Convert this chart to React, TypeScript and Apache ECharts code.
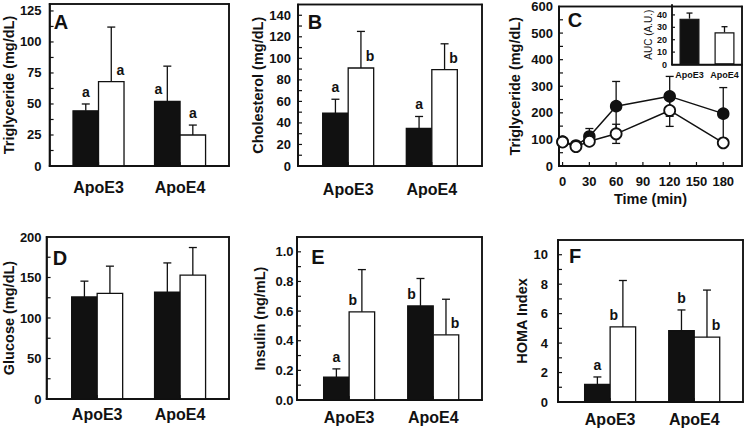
import React, { useEffect, useRef } from "react";
import * as echarts from "echarts";

// ---------- data ----------
const groups = ["ApoE3", "ApoE4"];

// A: plasma triglyceride (mg/dL)
const tgBlack = [44.5, 52];
const tgBlackSd = [5.5, 28.5];
const tgWhite = [68, 25];
const tgWhiteSd = [44, 8];
const tgBlackSig = ["a", "a"];
const tgWhiteSig = ["a", "a"];

// B: cholesterol (mg/dL)
const chBlack = [49, 35];
const chBlackSd = [13, 11];
const chWhite = [91, 89.5];
const chWhiteSd = [34, 24];
const chBlackSig = ["a", "a"];
const chWhiteSig = ["b", "b"];

// C: oral fat tolerance, triglyceride (mg/dL) over time (min)
const timePoints = [0, 15, 30, 60, 120, 180];
const timeTicks = [0, 30, 60, 90, 120, 150, 180];
const ottBlack = [92, 77, 111, 225, 262, 197];
const ottBlackSd = [12, 8, 30, 93, 75, 98];
const ottWhite = [90, 73, 93, 121, 209, 87];
const ottWhiteSd = [10, 6, 8, 36, 60, 8];
// C inset: AUC (A.U.)
const aucGroups = ["ApoE3", "ApoE4"];
const aucMean = [37, 26];
const aucSd = [4.5, 4.5];

// D: glucose (mg/dL)
const glBlack = [126, 132];
const glBlackSd = [19.5, 36];
const glWhite = [130.5, 153];
const glWhiteSd = [33.5, 34];

// E: insulin (ng/mL)
const inBlack = [0.155, 0.635];
const inBlackSd = [0.055, 0.185];
const inWhite = [0.595, 0.44];
const inWhiteSd = [0.285, 0.24];
const inBlackSig = ["a", "b"];
const inWhiteSig = ["b", "b"];

// F: HOMA index
const hoBlack = [1.2, 4.85];
const hoBlackSd = [0.5, 1.4];
const hoWhite = [5.1, 4.4];
const hoWhiteSd = [3.15, 3.2];
const hoBlackSig = ["a", "b"];
const hoWhiteSig = ["b", "b"];

// ---------- style ----------
const INK = "#111";
const FONT = "Liberation Sans, Arial, Helvetica, sans-serif";
const BAR_W = 25.5;

type Place = "top" | "left" | "right";
type FrameSpec = { xMin: number; xMax: number; yMax: number; yStep: number; xTicks: number[]; box: boolean; len: number };

const barPanels = [
  {
    letter: "A", letterX: 61, letterY: 22,
    grid: { left: 44, top: 4, width: 185, height: 162 },
    xMin: -0.6, xMax: 1.6,
    yMax: 130.6, interval: 25, showMax: false, fmt: (v: number) => String(v),
    name: "Triglyceride (mg/dL)", nameGap: 29, labelMargin: 8, catMargin: 13,
    black: tgBlack, blackSd: tgBlackSd, white: tgWhite, whiteSd: tgWhiteSd,
    blackSig: tgBlackSig, whiteSig: tgWhiteSig,
    blackPlace: ["top", "left"] as Place[], whitePlace: ["right", "top"] as Place[],
  },
  {
    letter: "B", letterX: 315, letterY: 22,
    grid: { left: 298, top: 4.5, width: 184, height: 161.5 },
    xMin: -0.6, xMax: 1.6,
    yMax: 150, interval: 20, showMax: false, fmt: (v: number) => String(v),
    name: "Cholesterol (mg/dL)", nameGap: 31, labelMargin: 7, catMargin: 15,
    black: chBlack, blackSd: chBlackSd, white: chWhite, whiteSd: chWhiteSd,
    blackSig: chBlackSig, whiteSig: chWhiteSig,
    blackPlace: ["top", "top"] as Place[], whitePlace: ["right", "right"] as Place[],
  },
  {
    letter: "D", letterX: 60, letterY: 258,
    grid: { left: 44, top: 237, width: 185, height: 162 },
    xMin: -0.61, xMax: 1.59,
    yMax: 200, interval: 50, showMax: true, fmt: (v: number) => String(v),
    name: "Glucose (mg/dL)", nameGap: 29.5, labelMargin: 5, catMargin: 7,
    black: glBlack, blackSd: glBlackSd, white: glWhite, whiteSd: glWhiteSd,
    blackSig: null, whiteSig: null,
    blackPlace: ["top", "top"] as Place[], whitePlace: ["top", "top"] as Place[],
  },
  {
    letter: "E", letterX: 318, letterY: 257,
    grid: { left: 297, top: 237, width: 185, height: 163 },
    xMin: -0.62, xMax: 1.58,
    yMax: 1.1, interval: 0.2, showMax: false, fmt: (v: number) => v.toFixed(1),
    name: "Insulin (ng/mL)", nameGap: 30, labelMargin: 3.5, catMargin: 9,
    black: inBlack, blackSd: inBlackSd, white: inWhite, whiteSd: inWhiteSd,
    blackSig: inBlackSig, whiteSig: inWhiteSig,
    blackPlace: ["top", "left"] as Place[], whitePlace: ["left", "right"] as Place[],
  },
  {
    letter: "F", letterX: 575, letterY: 256,
    grid: { left: 558, top: 240, width: 185, height: 162 },
    xMin: -0.62, xMax: 1.58,
    yMax: 11, interval: 2, showMax: false, fmt: (v: number) => String(v),
    name: "HOMA Index", nameGap: 22.5, labelMargin: 10, catMargin: 9,
    black: hoBlack, blackSd: hoBlackSd, white: hoWhite, whiteSd: hoWhiteSd,
    blackSig: hoBlackSig, whiteSig: hoWhiteSig,
    blackPlace: ["top", "top"] as Place[], whitePlace: ["left", "right"] as Place[],
  },
];

function yAxisBase(gridIndex: number, p: any) {
  return {
    gridIndex,
    type: "value",
    min: 0,
    max: p.yMax,
    interval: p.interval,
    name: p.name,
    nameLocation: "middle",
    nameGap: p.nameGap,
    nameTextStyle: { fontFamily: FONT, fontWeight: "bold", fontSize: 14.5, color: INK },
    axisLine: { show: true, onZero: false, lineStyle: { color: INK, width: 1.5 } },
    axisTick: { show: false },
    splitLine: { show: false },
    axisLabel: {
      showMaxLabel: p.showMax,
      margin: p.labelMargin,
      fontFamily: FONT,
      fontWeight: "bold",
      fontSize: 13,
      color: INK,
      formatter: p.fmt,
    },
  };
}

// frame + inward ticks as child elements, positioned via api.coord (the axes' own scales)
function frameChildren(api: any, f: FrameSpec) {
  const tl = api.coord([f.xMin, f.yMax]);
  const br = api.coord([f.xMax, 0]);
  const out: any[] = [];
  const W = 1.5;
  const T = 1.2;
  const bar = (x: number, y: number, w: number, h: number) =>
    out.push({ type: "rect", z2: 50, shape: { x, y, width: w, height: h }, style: { fill: INK } });
  bar(tl[0] - W / 2, tl[1] - W / 2, W, br[1] - tl[1] + W);
  bar(tl[0] - W / 2, br[1] - W / 2, br[0] - tl[0] + W, W);
  if (f.box) {
    bar(tl[0] - W / 2, tl[1] - W / 2, br[0] - tl[0] + W, W);
    bar(br[0] - W / 2, tl[1] - W / 2, W, br[1] - tl[1] + W);
  }
  for (let v = f.yStep; v < f.yMax - 1e-9; v += f.yStep) {
    const p = api.coord([f.xMin, v]);
    bar(tl[0], p[1] - T / 2, f.len, T);
  }
  f.xTicks.forEach((t) => {
    const p = api.coord([t, 0]);
    bar(p[0] - T / 2, br[1] - f.len, T, f.len);
  });
  return out;
}

function barRender(side: number, fill: string, sig: string[] | null, place: Place[], frame: FrameSpec | null) {
  return (params: any, api: any) => {
    const i = api.value(0);
    const m = api.value(1);
    const s = api.value(2);
    const c = api.coord([i, m]);
    const b = api.coord([i, 0]);
    const e = api.coord([i, m + s]);
    const x0 = side < 0 ? c[0] - BAR_W : c[0];
    const bc = x0 + BAR_W / 2;
    const children: any[] = [
      {
        type: "rect",
        shape: { x: x0, y: c[1], width: BAR_W, height: b[1] - c[1] },
        style: { fill, stroke: INK, lineWidth: 1.3 },
      },
      { type: "line", shape: { x1: bc, y1: c[1], x2: bc, y2: e[1] }, style: { stroke: INK, lineWidth: 1.3 } },
      { type: "line", shape: { x1: bc - 4, y1: e[1], x2: bc + 4, y2: e[1] }, style: { stroke: INK, lineWidth: 1.3 } },
    ];
    const letter = sig ? sig[params.dataIndex] : "";
    if (letter) {
      const pl = place[params.dataIndex];
      const tx = pl === "left" ? bc - 9 : pl === "right" ? bc + 9 : bc;
      const ty = (pl === "top" ? e[1] : c[1]) - 5;
      children.push({
        type: "text",
        x: tx,
        y: ty,
        style: {
          text: letter, fill: INK, fontSize: 14, fontWeight: "bold", fontFamily: FONT,
          align: "center", verticalAlign: "bottom",
        },
      });
    }
    if (frame && params.dataIndex === 0) children.push(...frameChildren(api, frame));
    return { type: "group", children };
  };
}

function errRender(symmetric: boolean, cap: number, frame: FrameSpec | null) {
  return (params: any, api: any) => {
    const x = api.value(0);
    const m = api.value(1);
    const s = api.value(2);
    const hi = api.coord([x, m + s]);
    const lo = api.coord([x, symmetric ? m - s : m]);
    const children: any[] = [
      { type: "line", shape: { x1: hi[0], y1: hi[1], x2: lo[0], y2: lo[1] }, style: { stroke: INK, lineWidth: 1.3 } },
      { type: "line", shape: { x1: hi[0] - cap, y1: hi[1], x2: hi[0] + cap, y2: hi[1] }, style: { stroke: INK, lineWidth: 1.3 } },
    ];
    if (symmetric) {
      children.push({ type: "line", shape: { x1: lo[0] - cap, y1: lo[1], x2: lo[0] + cap, y2: lo[1] }, style: { stroke: INK, lineWidth: 1.3 } });
    }
    if (frame && params.dataIndex === 0) children.push(...frameChildren(api, frame));
    return { type: "group", children };
  };
}

function buildOption() {
  const grids: any[] = [];
  const xAxes: any[] = [];
  const yAxes: any[] = [];
  const series: any[] = [];
  const graphic: any[] = [];

  barPanels.forEach((p, k) => {
    grids.push({ ...p.grid, show: true, borderColor: INK, borderWidth: 1.5 });
    xAxes.push({
      gridIndex: k,
      type: "value",
      min: p.xMin,
      max: p.xMax,
      axisLine: { show: true, onZero: false, lineStyle: { color: INK, width: 1.5 } },
      splitLine: { show: false },
      axisTick: { show: false },
      axisLabel: {
        customValues: [0, 1],
        formatter: (v: number) => groups[Math.round(v)] ?? "",
        margin: p.catMargin,
        fontFamily: FONT,
        fontWeight: "bold",
        fontSize: 16,
        color: INK,
      },
    });
    yAxes.push(yAxisBase(k, p));
    const frame: FrameSpec = { xMin: p.xMin, xMax: p.xMax, yMax: p.yMax, yStep: p.interval / 2, xTicks: [0, 1], box: true, len: 4 };
    series.push({
      type: "custom", xAxisIndex: k, yAxisIndex: k, encode: { x: 0, y: 1 },
      data: groups.map((_, i) => [i, p.black[i], p.blackSd[i]]),
      renderItem: barRender(-1, INK, p.blackSig, p.blackPlace, null),
    });
    series.push({
      type: "custom", xAxisIndex: k, yAxisIndex: k, encode: { x: 0, y: 1 }, z: 6,
      data: groups.map((_, i) => [i, p.white[i], p.whiteSd[i]]),
      renderItem: barRender(1, "#fff", p.whiteSig, p.whitePlace, frame),
    });
    graphic.push({
      type: "text", x: p.letterX, y: p.letterY, z: 100,
      style: { text: p.letter, fontSize: 20, fontWeight: "bold", fontFamily: FONT, fill: INK, align: "center", verticalAlign: "middle" },
    });
  });

  // Panel C main
  const cI = grids.length;
  grids.push({ left: 559, top: 5, width: 183, height: 161, show: true, borderColor: INK, borderWidth: 1.5 });
  xAxes.push({
    gridIndex: cI,
    type: "value",
    min: -4,
    max: 201,
    name: "Time (min)",
    nameLocation: "middle",
    nameGap: 25,
    nameTextStyle: { fontFamily: FONT, fontWeight: "bold", fontSize: 14.5, color: INK },
    axisLine: { show: true, onZero: false, lineStyle: { color: INK, width: 1.5 } },
    splitLine: { show: false },
    axisTick: { show: false },
    axisLabel: { customValues: timeTicks, margin: 9, fontFamily: FONT, fontWeight: "bold", fontSize: 13, color: INK },
  });
  yAxes.push(
    yAxisBase(cI, {
      yMax: 600, interval: 100, showMax: true, fmt: (v: number) => String(v),
      name: "Triglyceride (mg/dL)", nameGap: 37, labelMargin: 6,
    })
  );
  series.push({
    type: "custom", xAxisIndex: cI, yAxisIndex: cI, encode: { x: 0, y: 1 },
    data: timePoints.map((t, i) => [t, ottBlack[i], ottBlackSd[i]]),
    renderItem: errRender(true, 4, { xMin: -4, xMax: 201, yMax: 600, yStep: 50, xTicks: timeTicks, box: true, len: 4 }),
  });
  series.push({
    type: "custom", xAxisIndex: cI, yAxisIndex: cI, encode: { x: 0, y: 1 },
    data: timePoints.map((t, i) => [t, ottWhite[i], ottWhiteSd[i]]),
    renderItem: errRender(true, 4, null),
  });
  series.push({
    type: "line", xAxisIndex: cI, yAxisIndex: cI, z: 3,
    data: timePoints.map((t, i) => [t, ottBlack[i]]),
    symbol: "circle", symbolSize: 11,
    itemStyle: { color: INK, borderColor: INK, borderWidth: 1.5 },
    lineStyle: { color: INK, width: 1.5 },
  });
  series.push({
    type: "line", xAxisIndex: cI, yAxisIndex: cI, z: 4,
    data: timePoints.map((t, i) => [t, ottWhite[i]]),
    symbol: "circle", symbolSize: 11,
    itemStyle: { color: "#fff", borderColor: INK, borderWidth: 1.8 },
    lineStyle: { color: INK, width: 1.5 },
  });
  graphic.push({
    type: "text", x: 575, y: 20, z: 100,
    style: { text: "C", fontSize: 20, fontWeight: "bold", fontFamily: FONT, fill: INK, align: "center", verticalAlign: "middle" },
  });

  // Panel C inset
  const iI = grids.length;
  grids.push({ left: 672, top: 5, width: 70, height: 59.5 });
  xAxes.push({
    gridIndex: iI,
    type: "value",
    min: -0.5,
    max: 1.5,
    axisLine: { show: true, onZero: false, lineStyle: { color: INK, width: 1.5 } },
    axisTick: { show: false },
    splitLine: { show: false },
    axisLabel: {
      customValues: [0, 1],
      formatter: (v: number) => aucGroups[Math.round(v)] ?? "",
      margin: 6, fontFamily: FONT, fontWeight: "bold", fontSize: 9, color: INK,
    },
  });
  yAxes.push({
    gridIndex: iI,
    type: "value",
    min: 0,
    max: 48,
    interval: 10,
    name: "AUC (A.U.)",
    nameLocation: "middle",
    nameGap: 17,
    nameTextStyle: { fontFamily: FONT, fontSize: 10, color: INK },
    axisLine: { show: true, onZero: false, lineStyle: { color: INK, width: 1.5 } },
    axisTick: { show: false },
    splitLine: { show: false },
    axisLabel: { showMaxLabel: false, margin: 5, fontFamily: FONT, fontWeight: "bold", fontSize: 9, color: INK },
  });
  series.push({
    type: "bar", xAxisIndex: iI, yAxisIndex: iI, barWidth: 20,
    data: aucMean.map((v, i) =>
      i === 0
        ? { value: [i, v], itemStyle: { color: INK, borderColor: INK, borderWidth: 1.2 } }
        : { value: [i, v], itemStyle: { color: "#fff", borderColor: INK, borderWidth: 1.2 } }
    ),
  });
  series.push({
    type: "custom", xAxisIndex: iI, yAxisIndex: iI, encode: { x: 0, y: 1 }, z: 6,
    data: aucMean.map((v, i) => [i, v, aucSd[i]]),
    renderItem: errRender(false, 3, { xMin: -0.5, xMax: 1.5, yMax: 48, yStep: 10, xTicks: [], box: false, len: 3 }),
  });

  return {
    animation: false,
    grid: grids,
    xAxis: xAxes,
    yAxis: yAxes,
    series,
    graphic,
  };
}

export default function App() {
  const ref = useRef<HTMLDivElement>(null);
  useEffect(() => {
    if (!ref.current) return;
    const chart = echarts.init(ref.current, undefined, { renderer: "svg" });
    chart.setOption(buildOption() as any);
    return () => chart.dispose();
  }, []);
  return <div ref={ref} style={{ position: "absolute", left: 0, top: 0, width: 745, height: 432 }} />;
}
